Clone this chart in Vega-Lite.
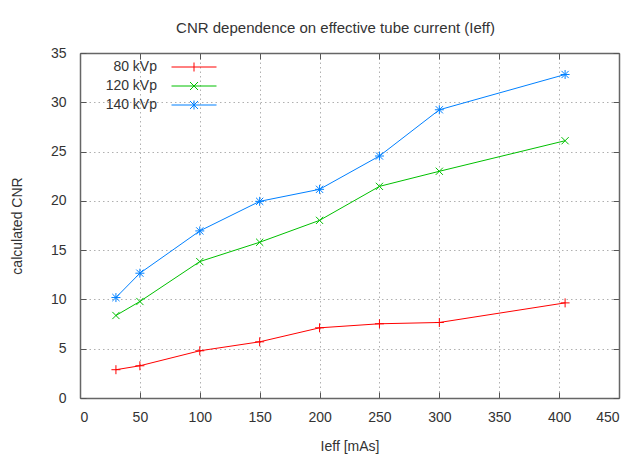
{
  "$schema": "https://vega.github.io/schema/vega-lite/v6.json",
  "width": 539,
  "height": 345,
  "autosize": "none",
  "padding": {"left": 80, "top": 53, "right": 14, "bottom": 58},
  "title": {"text": "CNR dependence on effective tube current (Ieff)", "fontSize": 15, "font": "Liberation Sans", "fontWeight": "normal", "color": "#333333", "offset": 10, "dx": -14},
  "config": {
    "view": {"stroke": null},
    "font": "Liberation Sans",
    "axis": {"labelFont": "Liberation Sans", "titleFont": "Liberation Sans", "labelFontSize": 14, "titleFontSize": 14, "labelColor": "#333333", "titleColor": "#333333", "titleFontWeight": "normal", "domainColor": "#666666", "domainWidth": 1.5, "tickColor": "#555555", "tickWidth": 1, "gridColor": "#b0b0b0", "gridDash": [1.5, 3], "gridWidth": 1}
  },
  "data": {"values": [
    {"series": "80 kVp", "x": 30, "y": 2.87},
    {"series": "80 kVp", "x": 50, "y": 3.27},
    {"series": "80 kVp", "x": 100, "y": 4.79},
    {"series": "80 kVp", "x": 150, "y": 5.70},
    {"series": "80 kVp", "x": 200, "y": 7.12},
    {"series": "80 kVp", "x": 250, "y": 7.53},
    {"series": "80 kVp", "x": 300, "y": 7.66},
    {"series": "80 kVp", "x": 405, "y": 9.65},
    {"series": "120 kVp", "x": 30, "y": 8.37},
    {"series": "120 kVp", "x": 50, "y": 9.79},
    {"series": "120 kVp", "x": 100, "y": 13.84},
    {"series": "120 kVp", "x": 150, "y": 15.8},
    {"series": "120 kVp", "x": 200, "y": 18.02},
    {"series": "120 kVp", "x": 250, "y": 21.47},
    {"series": "120 kVp", "x": 300, "y": 23.0},
    {"series": "120 kVp", "x": 405, "y": 26.1},
    {"series": "140 kVp", "x": 30, "y": 10.19},
    {"series": "140 kVp", "x": 50, "y": 12.66},
    {"series": "140 kVp", "x": 100, "y": 16.95},
    {"series": "140 kVp", "x": 150, "y": 19.95},
    {"series": "140 kVp", "x": 200, "y": 21.17},
    {"series": "140 kVp", "x": 250, "y": 24.55},
    {"series": "140 kVp", "x": 300, "y": 29.24},
    {"series": "140 kVp", "x": 405, "y": 32.82}
  ]},
  "layer": [
    {
      "mark": {"type": "line", "strokeWidth": 1},
      "encoding": {
        "x": {"field": "x", "type": "quantitative", "scale": {"domain": [0, 450], "nice": false}, "axis": {"orient": "bottom", "values": [0, 50, 100, 150, 200, 250, 300, 350, 400, 450], "grid": true, "tickSize": -6, "labelPadding": 18, "title": "Ieff [mAs]", "titlePadding": 15}},
        "y": {"field": "y", "type": "quantitative", "scale": {"domain": [0, 35], "nice": false}, "axis": {"orient": "left", "values": [0, 5, 10, 15, 20, 25, 30, 35], "grid": true, "tickSize": -6, "labelPadding": 20, "title": "calculated CNR", "titlePadding": 26}},
        "color": {"field": "series", "type": "nominal", "scale": {"domain": ["80 kVp", "120 kVp", "140 kVp"], "range": ["#ff0000", "#00c000", "#0080ff"]},
          "legend": {"title": null, "orient": "none", "legendX": 107, "legendY": 7, "padding": 0, "labelFontSize": 14, "labelColor": "#333333", "labelAlign": "right", "labelOffset": -44, "symbolSize": 100, "symbolStrokeWidth": 1, "rowPadding": 5,
            "encode": {"symbols": {"update": {"shape": {"signal": "datum.value === '80 kVp' ? 'M-4.5,0L4.5,0M0,-0.9L0,0.9' : datum.value === '120 kVp' ? 'M-4.5,0L4.5,0M-0.8,-0.8L0.8,0.8M-0.8,0.8L0.8,-0.8' : 'M-4.5,0L4.5,0M0,-0.9L0,0.9M-0.8,-0.8L0.8,0.8M-0.8,0.8L0.8,-0.8'"}, "fill": {"value": "transparent"}}}}}}
      }
    },
    {
      "transform": [{"filter": "datum.series === '80 kVp'"}],
      "mark": {"type": "point", "filled": false, "strokeWidth": 1, "size": 81, "opacity": 1, "shape": "M-1,0L1,0M0,-1L0,1"},
      "encoding": {
        "x": {"field": "x", "type": "quantitative", "axis": null},
        "y": {"field": "y", "type": "quantitative", "axis": null},
        "color": {"field": "series", "type": "nominal"}
      }
    },
    {
      "transform": [{"filter": "datum.series === '120 kVp'"}],
      "mark": {"type": "point", "filled": false, "strokeWidth": 1, "size": 81, "opacity": 1, "shape": "M-0.8,-0.8L0.8,0.8M-0.8,0.8L0.8,-0.8"},
      "encoding": {
        "x": {"field": "x", "type": "quantitative", "axis": null},
        "y": {"field": "y", "type": "quantitative", "axis": null},
        "color": {"field": "series", "type": "nominal"}
      }
    },
    {
      "transform": [{"filter": "datum.series === '140 kVp'"}],
      "mark": {"type": "point", "filled": false, "strokeWidth": 1, "size": 81, "opacity": 1, "shape": "M-1,0L1,0M0,-1L0,1M-0.8,-0.8L0.8,0.8M-0.8,0.8L0.8,-0.8"},
      "encoding": {
        "x": {"field": "x", "type": "quantitative", "axis": {"orient": "top", "values": [0, 50, 100, 150, 200, 250, 300, 350, 400, 450], "grid": false, "labels": false, "tickSize": -6, "title": null}},
        "y": {"field": "y", "type": "quantitative", "axis": {"orient": "right", "values": [0, 5, 10, 15, 20, 25, 30, 35], "grid": false, "labels": false, "tickSize": -6, "title": null}},
        "color": {"field": "series", "type": "nominal"}
      }
    }
  ],
  "resolve": {"axis": {"x": "independent", "y": "independent"}}
}
